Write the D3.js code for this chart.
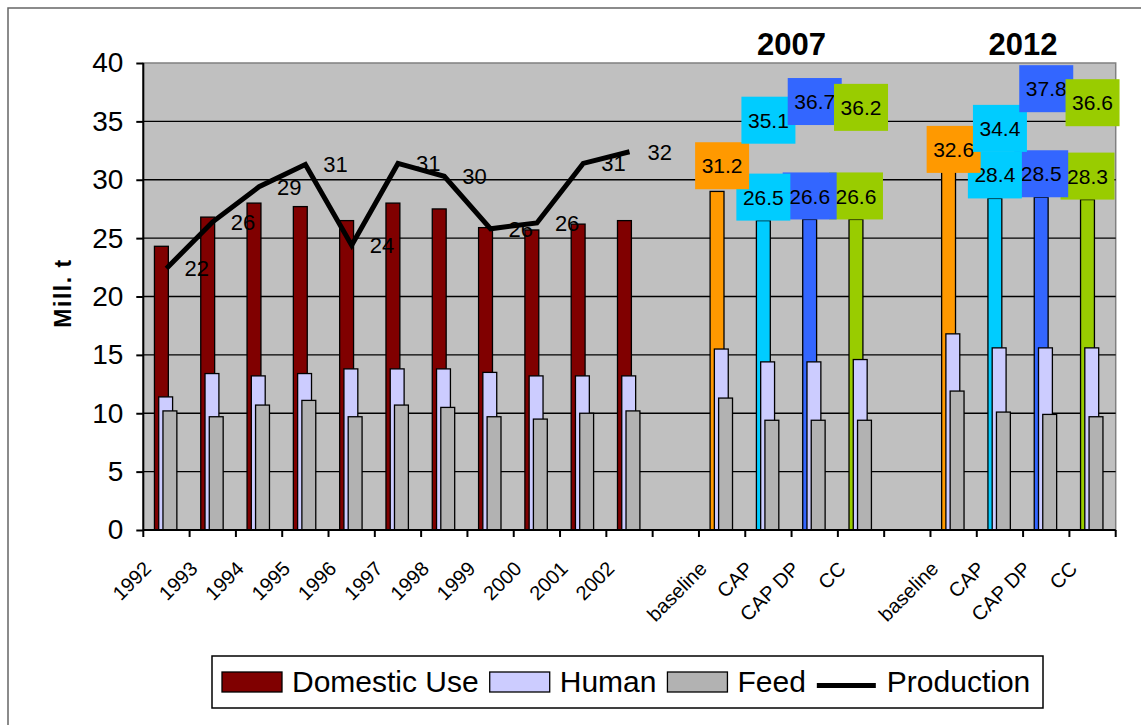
<!DOCTYPE html>
<html>
<head>
<meta charset="utf-8">
<script src="https://cdn.jsdelivr.net/npm/d3@7"></script>
<style>
  html, body { margin: 0; padding: 0; background: #fff; }
  svg { display: block; }
  text { font-family: "Liberation Sans", Arial, sans-serif; fill: #000; }
</style>
</head>
<body>
<svg id="chart" width="1141" height="725"></svg>
<script>
// ---------------- data ----------------
const categories = ["1992","1993","1994","1995","1996","1997","1998","1999","2000","2001","2002",
  "", "baseline","CAP","CAP DP","CC", "", "baseline","CAP","CAP DP","CC"];
const domesticUse = [24.3, 26.8, 28.0, 27.7, 26.5, 28.0, 27.5, 25.9, 25.7, 26.2, 26.5,
  null, 29.0, 26.5, 26.6, 26.6, null, 31.0, 28.4, 28.5, 28.3];
const human = [11.4, 13.4, 13.2, 13.4, 13.8, 13.8, 13.8, 13.5, 13.2, 13.2, 13.2,
  null, 15.5, 14.4, 14.4, 14.6, null, 16.8, 15.6, 15.6, 15.6];
const feed = [10.2, 9.7, 10.7, 11.1, 9.7, 10.7, 10.5, 9.7, 9.5, 10.0, 10.2,
  null, 11.3, 9.4, 9.4, 9.4, null, 11.9, 10.1, 9.9, 9.7];
const production = [22.4, 26.4, 29.4, 31.3, 24.4, 31.4, 30.3, 25.8, 26.3, 31.4, 32.4,
  null, 31.2, 35.1, 36.7, 36.2, null, 32.6, 34.4, 37.8, 36.6];
const scenarioNames = ["baseline","CAP","CAP DP","CC"];
const scenarioColors = ["#FF9900","#00CCFF","#3366FF","#99CC00"];
const groupTitles = ["2007","2012"];
const groupFirstIndex = [12, 17];
const yTicks = [0,5,10,15,20,25,30,35,40];
const legendLabels = ["Domestic Use","Human","Feed","Production"];

const COL_DOM = "#800000", COL_HUM = "#CCCCFF", COL_FEED = "#B2B2B2", COL_BG = "#C0C0C0";
const FONT = "'Liberation Sans', Arial, sans-serif";

// ---------------- layout ----------------
const svg = d3.select("#chart");
const plot = {left: 143.3, right: 1115.7, top: 63, bottom: 530};

const idx = d3.range(categories.length);
const x = d3.scaleBand().domain(idx).range([plot.left, plot.right]).padding(0);
const y = d3.scaleLinear().domain([0, 40]).range([plot.bottom, plot.top]);
const bw = x.bandwidth();
const barW = bw * 0.30;
const step = bw * 0.092;
const cx = i => x(i) + bw / 2;
const barX = (i, k) => cx(i) - (barW + 2 * step) / 2 - 0.8 + k * step;

function isScenario(i) { return scenarioNames.includes(categories[i]) && i > 10; }
function domColor(i) {
  return isScenario(i) ? scenarioColors[scenarioNames.indexOf(categories[i])] : COL_DOM;
}

// outer frame
svg.append("rect").attr("x", 8).attr("y", 8).attr("width", 1200).attr("height", 800)
  .attr("fill", "#fff").attr("stroke", "#666").attr("stroke-width", 1.5);

// plot background
svg.append("rect").attr("x", plot.left).attr("y", plot.top)
  .attr("width", plot.right - plot.left).attr("height", plot.bottom - plot.top)
  .attr("fill", COL_BG).attr("stroke", "#808080").attr("stroke-width", 1.5);

// gridlines
svg.append("g").selectAll("line").data(yTicks.filter(t => t > 0 && t < 40)).join("line")
  .attr("x1", plot.left).attr("x2", plot.right)
  .attr("y1", d => y(d)).attr("y2", d => y(d))
  .attr("stroke", "#000").attr("stroke-width", 1.4);

// y axis
const yAxis = d3.axisLeft(y).tickValues(yTicks).tickSize(7).tickPadding(13).tickFormat(d3.format("d"));
const gy = svg.append("g").attr("transform", `translate(${plot.left},0)`).call(yAxis);
gy.select(".domain").remove();
gy.selectAll(".tick line").attr("stroke", "#000").attr("stroke-width", 2);
gy.selectAll(".tick text").attr("font-size", 28).attr("font-family", FONT).attr("fill", "#000");
svg.append("line").attr("x1", plot.left).attr("x2", plot.left).attr("y1", plot.top).attr("y2", plot.bottom)
  .attr("stroke", "#000").attr("stroke-width", 2);

// y title
svg.append("text").attr("transform", "translate(71,293) rotate(-90)")
  .attr("text-anchor", "middle").attr("font-weight", "bold").attr("font-size", 23)
  .attr("letter-spacing", 1.5).text("Mill. t");

// bars
const series = [
  {vals: domesticUse, k: 0, color: domColor},
  {vals: human, k: 1, color: () => COL_HUM},
  {vals: feed, k: 2, color: () => COL_FEED}
];
series.forEach(s => {
  svg.append("g").selectAll("rect").data(idx.filter(i => s.vals[i] != null)).join("rect")
    .attr("x", i => barX(i, s.k)).attr("width", barW)
    .attr("y", i => y(s.vals[i])).attr("height", i => y(0) - y(s.vals[i]))
    .attr("fill", i => s.color(i)).attr("stroke", "#000").attr("stroke-width", 1.3);
});

// x axis
svg.append("line").attr("x1", plot.left).attr("x2", plot.right).attr("y1", plot.bottom).attr("y2", plot.bottom)
  .attr("stroke", "#000").attr("stroke-width", 2);
svg.append("g").selectAll("line").data(d3.range(categories.length + 1)).join("line")
  .attr("x1", i => plot.left + i * bw).attr("x2", i => plot.left + i * bw)
  .attr("y1", plot.bottom).attr("y2", plot.bottom + 7)
  .attr("stroke", "#000").attr("stroke-width", 2);
svg.append("g").selectAll("text").data(idx.filter(i => categories[i] !== "")).join("text")
  .attr("transform", i => `translate(${cx(i) - 14},${plot.bottom + 40}) rotate(-45)`)
  .attr("text-anchor", "end").attr("font-size", 20).text(i => categories[i]);

// production line
const line = d3.line().defined(i => production[i] != null).x(i => cx(i)).y(i => y(production[i]));
svg.append("path").datum(idx).attr("d", line)
  .attr("fill", "none").attr("stroke", "#000").attr("stroke-width", 5).attr("stroke-linejoin", "miter");

// year production labels
svg.append("g").selectAll("text").data(idx.filter(i => i <= 10)).join("text")
  .attr("x", i => cx(i) + 18).attr("y", i => y(production[i]))
  .attr("dy", "0.36em").attr("font-size", 22)
  .text(i => d3.format(".0f")(production[i]));

// labelled boxes
const boxW = 54, boxH = 47;
function boxLabel(g, bx, byTop, color, txt) {
  g.append("rect").attr("x", bx - boxW / 2).attr("y", byTop).attr("width", boxW).attr("height", boxH)
    .attr("fill", color);
  g.append("text").attr("x", bx).attr("y", byTop + boxH / 2).attr("dy", "0.36em")
    .attr("text-anchor", "middle").attr("font-size", 21).text(txt);
}
// domestic-use labels (non-baseline scenarios), drawn in reverse series order
const gDom = svg.append("g");
idx.filter(i => isScenario(i) && categories[i] !== "baseline").reverse().forEach(i => {
  boxLabel(gDom, barX(i, 0) + barW / 2, y(domesticUse[i]) - boxH, domColor(i), d3.format(".1f")(domesticUse[i]));
});
// production labels for scenarios
const gProd = svg.append("g");
idx.filter(i => isScenario(i)).forEach(i => {
  boxLabel(gProd, cx(i), y(production[i]) - boxH / 2, domColor(i), d3.format(".1f")(production[i]));
});

// group titles
groupTitles.forEach((t, j) => {
  const a = groupFirstIndex[j];
  const mid = (x(a) + x(a + 3) + bw) / 2;
  svg.append("text").attr("x", mid).attr("y", 55).attr("text-anchor", "middle")
    .attr("font-weight", "bold").attr("font-size", 31).text(t);
});

// legend
const lg = svg.append("g");
lg.append("rect").attr("x", 212).attr("y", 656).attr("width", 831).attr("height", 52)
  .attr("fill", "#fff").attr("stroke", "#000").attr("stroke-width", 1.5);
let lx = 222;
const swatchColors = [COL_DOM, COL_HUM, COL_FEED];
legendLabels.forEach((lab, j) => {
  if (j < 3) {
    lg.append("rect").attr("x", lx).attr("y", 672).attr("width", 60).attr("height", 20)
      .attr("fill", swatchColors[j]).attr("stroke", "#000").attr("stroke-width", 1.3);
  } else {
    lg.append("line").attr("x1", lx).attr("x2", lx + 59).attr("y1", 685.5).attr("y2", 685.5)
      .attr("stroke", "#000").attr("stroke-width", 5);
  }
  const t = lg.append("text").attr("x", lx + 70).attr("y", 692).attr("font-size", 30).text(lab);
  lx = lx + 70 + t.node().getComputedTextLength() + 11;
});
</script>
</body>
</html>
